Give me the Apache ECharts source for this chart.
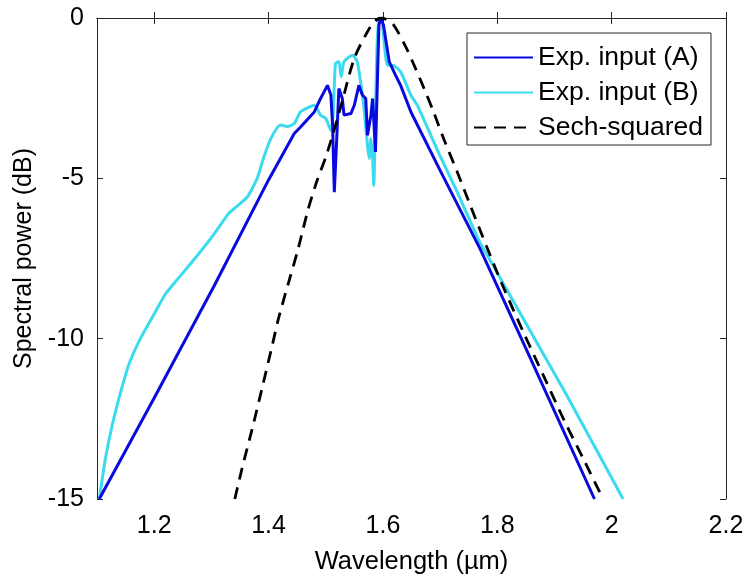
<!DOCTYPE html>
<html>
<head>
<meta charset="utf-8">
<script src="https://cdn.jsdelivr.net/npm/echarts@6/dist/echarts.min.js"></script>
<style>
  html, body { margin: 0; padding: 0; background: #fff; }
  #chart { width: 747px; height: 583px; }
</style>
</head>
<body>
<div id="chart"></div>
<script>
// tick labels
const xTicks = [1.2, 1.4, 1.6, 1.8, 2, 2.2]

// Exp. input (A)
const aWl = [1.104, 1.2, 1.305, 1.4, 1.445, 1.456, 1.48, 1.491, 1.503, 1.509, 1.512, 1.515, 1.519, 1.523, 1.529,
    1.532, 1.544, 1.55, 1.558, 1.564, 1.57, 1.573, 1.579, 1.582, 1.587, 1.593, 1.596, 1.601, 1.611, 1.622,
    1.631, 1.649, 1.7, 1.77, 1.85, 1.97]
const aDb = [-15, -11.85, -8.35, -5.05, -3.6, -3.4, -2.93, -2.51, -2.1, -2.4, -3.34, -5.43, -3.87, -2.2, -2.51,
    -3.03, -2.98, -2.72, -2.1, -2.4, -2.51, -3.66, -3.03, -2.51, -4.18, -0.22, 0, -0.22, -1.36, -1.78,
    -2.1, -2.93, -4.75, -7.2, -10.3, -15]

// Exp. input (B)
const bWl = [1.104, 1.115, 1.127, 1.142, 1.156, 1.174, 1.2, 1.22, 1.244, 1.273, 1.305, 1.33, 1.343, 1.363, 1.372,
    1.381, 1.392, 1.404, 1.421, 1.433, 1.445, 1.456, 1.48, 1.491, 1.5, 1.509, 1.513, 1.517, 1.523, 1.527,
    1.532, 1.547, 1.555, 1.561, 1.567, 1.573, 1.576, 1.579, 1.582, 1.584, 1.587, 1.59, 1.594, 1.599, 1.608,
    1.617, 1.631, 1.649, 1.66, 1.7, 1.73, 1.768, 1.789, 1.85, 1.92, 2.02]
const bDb = [-15, -13.71, -12.67, -11.63, -10.79, -10.06, -9.23, -8.6, -8.08, -7.46, -6.73, -6.1, -5.9, -5.58, -5.3,
    -4.96, -4.33, -3.76, -3.34, -3.38, -3.29, -2.93, -2.72, -3.03, -3.13, -3.5, -3.0, -1.42, -1.36, -1.83,
    -1.36, -1.16, -1.36, -1.99, -2.82, -3.97, -4.38, -3.76, -4.38, -5.22, -3.03, -0.74, 0, -0.22, -1.47,
    -1.47, -1.68, -2.41, -2.72, -4.3, -5.43, -6.94, -7.6, -9.52, -11.72, -15]

// Sech-squared
const sWl = [1.341, 1.354, 1.372, 1.389, 1.407, 1.418, 1.436, 1.451, 1.468, 1.483, 1.503, 1.527, 1.55, 1.573,
    1.586, 1.597, 1.608, 1.62, 1.64, 1.654, 1.672, 1.689, 1.707, 1.73, 1.753, 1.783, 1.812, 1.847,
    1.882, 1.917, 1.952, 1.985]
const sDb = [-15, -14.02, -12.77, -11.52, -10.17, -9.33, -8.19, -7.25, -6.05, -5.17, -4.18, -2.72, -1.26, -0.43,
    -0.1, 0, -0.06, -0.25, -0.9, -1.45, -2.2, -2.95, -3.8, -4.8, -5.85, -7.2, -8.45, -9.85,
    -11.2, -12.55, -13.8, -15]

const zip = (xs, ys) => xs.map((x, i) => [x, ys[i]])

const axisColor = '#262626'
const font = 'Liberation Sans, Arial, sans-serif'

const myChart = echarts.init(document.getElementById('chart'), null, { renderer: 'canvas' })

const option = {
    backgroundColor: '#fff',
    animation: false,
    textStyle: { fontFamily: font },
    grid: { left: 97, right: 21, top: 18, bottom: 84 },
    legend: {
        orient: 'vertical',
        left: 467,
        top: 33,
        padding: [11, 8, 4, 6],
        itemGap: 8,
        itemWidth: 59,
        itemHeight: 14,
        borderColor: axisColor,
        borderWidth: 1,
        backgroundColor: '#fff',
        itemStyle: { opacity: 0 },
        textStyle: { fontSize: 26.5, color: '#000', fontFamily: font, lineHeight: 27 },
        data: ['Exp. input (A)', 'Exp. input (B)', 'Sech-squared']
    },
    xAxis: [
        {
            type: 'value',
            min: 1.1,
            max: 2.2,
            name: 'Wavelength (µm)',
            nameLocation: 'middle',
            nameGap: 50,
            nameTextStyle: { fontSize: 25.5, color: '#000' },
            axisLine: { lineStyle: { color: axisColor, width: 1 } },
            axisTick: { inside: true, length: 6, customValues: xTicks, lineStyle: { color: axisColor } },
            axisLabel: { customValues: xTicks, fontSize: 25, color: '#000', margin: 15 },
            splitLine: { show: false }
        },
        {
            type: 'value',
            position: 'top',
            min: 1.1,
            max: 2.2,
            axisLine: { lineStyle: { color: axisColor, width: 1 } },
            axisTick: { inside: true, length: 6, customValues: xTicks, lineStyle: { color: axisColor } },
            axisLabel: { show: false },
            splitLine: { show: false }
        }
    ],
    yAxis: [
        {
            type: 'value',
            min: -15,
            max: 0,
            interval: 5,
            name: 'Spectral power (dB)',
            nameLocation: 'middle',
            nameGap: 55,
            nameTextStyle: { fontSize: 25, color: '#000' },
            axisLine: { show: true, lineStyle: { color: axisColor, width: 1 } },
            axisTick: { show: true, inside: true, length: 6, lineStyle: { color: axisColor } },
            axisLabel: { fontSize: 25, color: '#000', margin: 13 },
            splitLine: { show: false }
        },
        {
            type: 'value',
            position: 'right',
            min: -15,
            max: 0,
            interval: 5,
            axisLine: { show: true, lineStyle: { color: axisColor, width: 1 } },
            axisTick: { show: true, inside: true, length: 6, lineStyle: { color: axisColor } },
            axisLabel: { show: false },
            splitLine: { show: false }
        }
    ],
    series: [
        {
            name: 'Exp. input (A)',
            type: 'line',
            data: zip(aWl, aDb),
            symbol: 'none',
            lineStyle: { color: '#0a0ade', width: 3 },
            itemStyle: { color: '#0a0ade' },
            z: 3
        },
        {
            name: 'Exp. input (B)',
            type: 'line',
            data: zip(bWl, bDb),
            symbol: 'none',
            smooth: 0.2,
            lineStyle: { color: '#3adbee', width: 3 },
            itemStyle: { color: '#3adbee' },
            z: 2
        },
        {
            name: 'Sech-squared',
            type: 'line',
            data: zip(sWl, sDb),
            symbol: 'none',
            smooth: 0.3,
            lineStyle: { color: '#000', width: 2.8, type: [12, 8] },
            itemStyle: { color: '#000' },
            z: 4
        }
    ]
}

myChart.setOption(option)
</script>
</body>
</html>
